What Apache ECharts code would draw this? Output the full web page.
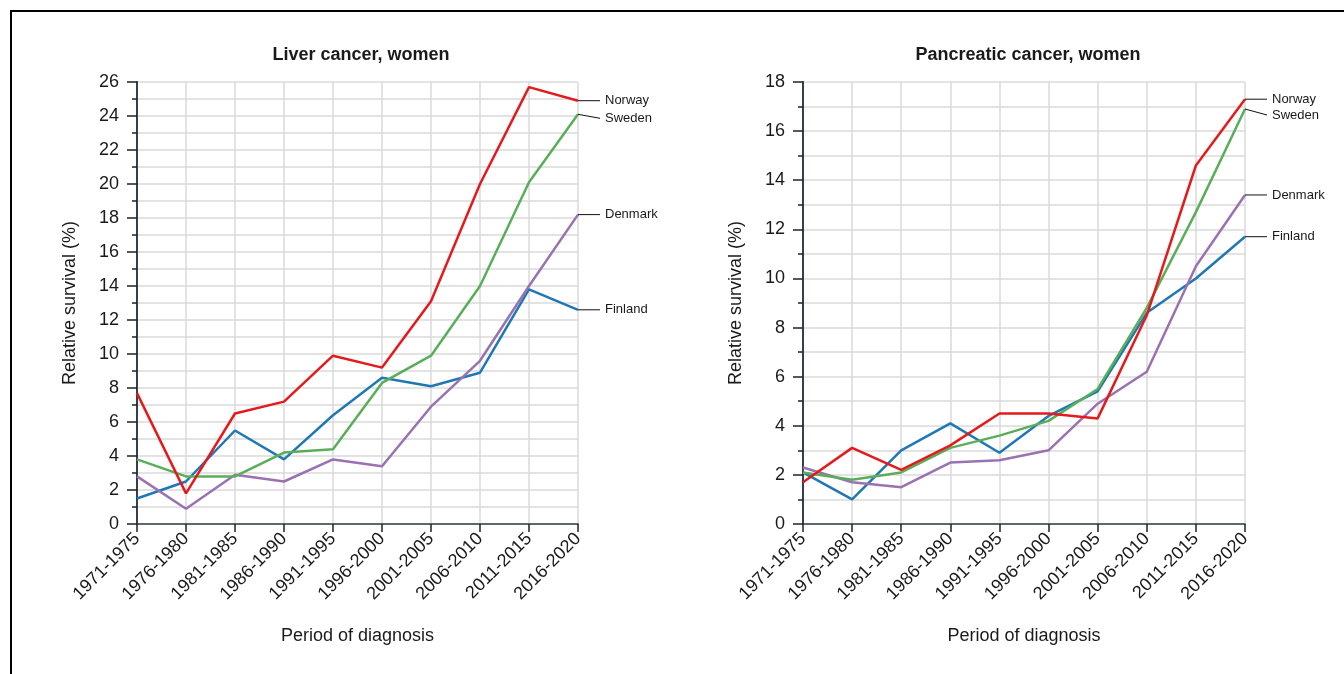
<!DOCTYPE html>
<html>
<head>
<meta charset="utf-8">
<script src="https://cdn.jsdelivr.net/npm/echarts@6/dist/echarts.min.js"></script>
<style>
html,body{margin:0;padding:0;background:#fff;}
#chart{width:1344px;height:674px;}
</style>
</head>
<body>
<div id="chart"></div>
<script>
const periods = ['1971-1975','1976-1980','1981-1985','1986-1990','1991-1995','1996-2000','2001-2005','2006-2010','2011-2015','2016-2020'];
const countries = ['Finland','Denmark','Sweden','Norway'];

const liverNorway  = [7.7, 1.8, 6.5, 7.2, 9.9, 9.2, 13.1, 20.0, 25.7, 24.9];
const liverSweden  = [3.8, 2.8, 2.8, 4.2, 4.4, 8.3, 9.9, 14.0, 20.1, 24.1];
const liverDenmark = [2.8, 0.9, 2.9, 2.5, 3.8, 3.4, 6.9, 9.6, 14.0, 18.2];
const liverFinland = [1.5, 2.5, 5.5, 3.8, 6.4, 8.6, 8.1, 8.9, 13.8, 12.6];

const pancNorway  = [1.7, 3.1, 2.2, 3.2, 4.5, 4.5, 4.3, 8.5, 14.6, 17.3];
const pancSweden  = [2.1, 1.8, 2.1, 3.1, 3.6, 4.2, 5.5, 8.8, 12.7, 16.9];
const pancDenmark = [2.3, 1.7, 1.5, 2.5, 2.6, 3.0, 4.9, 6.2, 10.5, 13.4];
const pancFinland = [2.1, 1.0, 3.0, 4.1, 2.9, 4.4, 5.4, 8.6, 10.0, 11.7];

const titles = ['Liver cancer, women', 'Pancreatic cancer, women'];
const yMax = [26, 18];
const yInterval = 2;

const colors = {Norway:'#e41a1c', Sweden:'#5aae5a', Denmark:'#9a72b2', Finland:'#1f78b4'};
const labelDy = [{Sweden:4}, {Sweden:6}];

const dataSets = [
  {Norway:liverNorway, Sweden:liverSweden, Denmark:liverDenmark, Finland:liverFinland},
  {Norway:pancNorway, Sweden:pancSweden, Denmark:pancDenmark, Finland:pancFinland}
];

const FONT = '"Liberation Sans", Arial, sans-serif';
const TXT = '#1a1a1a';
const AX = '#34404c';
const GRID = '#dadada';

const grids = [
  {left:137, right:766, top:82, bottom:150},
  {left:803, right:99, top:82, bottom:150}
];

const xAxes = grids.map((g,i)=>({
  type:'category', gridIndex:i, data:periods, boundaryGap:false,
  axisLine:{show:true, onZero:false, lineStyle:{color:AX, width:1.5}},
  axisTick:{show:true, length:8, lineStyle:{color:'#222', width:1.5}},
  axisLabel:{rotate:45, margin:12, fontSize:18, color:TXT, fontFamily:FONT, interval:0},
  splitLine:{show:true, lineStyle:{color:GRID, width:1.5}},
  name:'Period of diagnosis', nameLocation:'middle', nameGap:103,
  nameTextStyle:{fontSize:18, color:TXT, fontFamily:FONT}
}));

const yAxes = grids.map((g,i)=>({
  type:'value', gridIndex:i, min:0, max:yMax[i], interval:yInterval,
  axisLine:{show:true, lineStyle:{color:AX, width:2}},
  axisTick:{show:true, length:10, lineStyle:{color:'#222', width:1.5}},
  minorTick:{show:true, splitNumber:2, length:5, lineStyle:{color:'#222', width:1.5}},
  axisLabel:{margin:18, fontSize:18, color:TXT, fontFamily:FONT},
  splitLine:{show:true, lineStyle:{color:GRID, width:1.5}},
  minorSplitLine:{show:true, lineStyle:{color:GRID, width:1.5}},
  name:'Relative survival (%)', nameLocation:'middle', nameGap:58,
  nameTextStyle:{fontSize:18, color:TXT, fontFamily:FONT}
}));

const series = [];
dataSets.forEach((ds, gi)=>{
  countries.forEach(c=>{
    series.push({
      name:c+gi, type:'line', xAxisIndex:gi, yAxisIndex:gi,
      data:ds[c], showSymbol:false, symbol:'none',
      lineStyle:{color:colors[c], width:2.5},
      itemStyle:{color:colors[c]}, animation:false, z:3
    });
  });
});

const chart = echarts.init(document.getElementById('chart'), null, {renderer:'canvas'});
chart.setOption({
  backgroundColor:'#fff',
  animation:false,
  title:[
    {text:titles[0], left:356, top:41, textAlign:'center', textStyle:{fontSize:18, fontWeight:'bold', color:TXT, fontFamily:FONT}},
    {text:titles[1], left:1023, top:41, textAlign:'center', textStyle:{fontSize:18, fontWeight:'bold', color:TXT, fontFamily:FONT}}
  ],
  grid:grids,
  xAxis:xAxes,
  yAxis:yAxes,
  series:series
});

// End labels with leader lines, positioned through the chart's own scales
const graphics = [
  {type:'polyline', shape:{points:[[11,674],[11,11],[1344,11]]}, style:{stroke:'#000', lineWidth:2, fill:null}, z:100}
];
let si = 0;
dataSets.forEach((ds, gi)=>{
  countries.forEach(c=>{
    const last = periods.length-1;
    const p = chart.convertToPixel({seriesIndex:si}, [last, ds[c][last]]);
    const dy = labelDy[gi][c] || 0;
    graphics.push({type:'line', shape:{x1:p[0], y1:p[1], x2:p[0]+22, y2:p[1]+dy}, style:{stroke:'#111', lineWidth:1}, z:10});
    graphics.push({type:'text', x:p[0]+27, y:p[1]+dy, style:{text:c, fill:TXT, font:'13px '+FONT, textVerticalAlign:'middle', textAlign:'left'}, z:10});
    si++;
  });
});
chart.setOption({graphic:graphics});
</script>
</body>
</html>
